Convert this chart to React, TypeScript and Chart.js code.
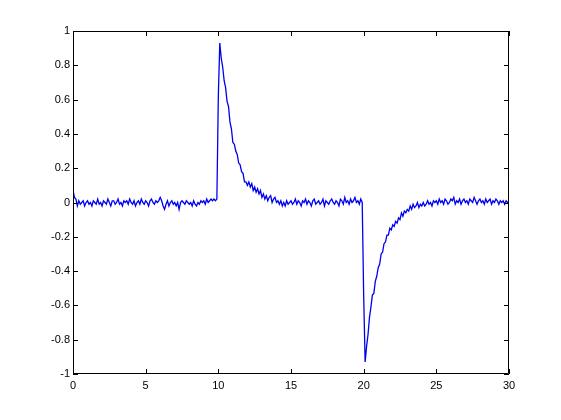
import React, { useEffect, useRef } from "react";
import { Chart, registerables } from "chart.js";

Chart.register(...registerables);

// Sample spacing along x (seconds per sample)
const xStep = 0.1;

// x = 0.0 .. 9.9 : baseline before the positive pulse
const baselineA = [
  0.07, 0.03, 0.02, -0.02, 0.01, -0.01, 0.0, 0.01, -0.02, 0.0,
  0.01, -0.01, 0.0, -0.02, 0.01, 0.0, -0.01, 0.02, -0.01, 0.0,
  -0.02, 0.01, 0.0, -0.01, 0.02, 0.0, -0.02, 0.01, 0.01, -0.01,
  0.0, 0.02, -0.01, 0.0, -0.02, 0.01, 0.0, 0.01, -0.01, 0.02,
  0.0, -0.01, 0.01, -0.02, 0.0, 0.01, -0.01, 0.02, 0.0, -0.01,
  0.01, 0.0, -0.02, 0.01, 0.02, 0.0, -0.01, 0.01, 0.0, 0.01,
  0.03, 0.01, -0.02, -0.04, -0.01, 0.01, -0.02, 0.0, 0.01, -0.01,
  0.0, -0.02, 0.0, -0.04, 0.0, 0.01, 0.0, -0.01, 0.01, 0.0,
  -0.01, 0.0, -0.02, 0.01, -0.01, -0.02, 0.0, -0.01, 0.01, 0.0,
  0.01, -0.01, 0.02, 0.0, 0.01, 0.02, 0.01, 0.02, 0.01, 0.02,
];

// x = 10.0 .. 14.9 : positive pulse and decay
const pulseUp = [
  0.62, 0.93, 0.84, 0.79, 0.71, 0.67, 0.59, 0.56, 0.47, 0.43,
  0.35, 0.34, 0.3, 0.28, 0.23, 0.22, 0.18, 0.17, 0.12, 0.12,
  0.1, 0.12, 0.09, 0.11, 0.07, 0.09, 0.06, 0.08, 0.05, 0.07,
  0.03, 0.05, 0.02, 0.04, 0.01, 0.03, 0.04, 0.0, 0.02, 0.03,
  0.0, 0.01, -0.01, 0.01, -0.02, 0.0, -0.02, 0.01, -0.01, 0.0,
];

// x = 15.0 .. 19.9 : baseline between pulses
const baselineB = [
  0.01, -0.01, 0.0, 0.02, -0.01, 0.01, 0.0, -0.02, 0.01, 0.0,
  0.02, -0.01, 0.01, 0.0, -0.02, 0.01, 0.02, -0.01, 0.0, 0.01,
  -0.01, 0.0, 0.02, -0.02, 0.01, 0.0, -0.01, 0.01, 0.02, 0.0,
  -0.01, 0.01, 0.0, -0.02, 0.02, 0.01, -0.01, 0.03, 0.0, 0.01,
  -0.01, 0.02, 0.0, 0.01, 0.03, 0.0, 0.01, -0.01, 0.02, 0.0,
];

// x = 20.0 .. 24.9 : negative pulse and recovery
const pulseDown = [
  -0.54, -0.93, -0.84, -0.77, -0.67, -0.61, -0.54, -0.53, -0.46, -0.43,
  -0.38, -0.36, -0.3, -0.29, -0.24, -0.23, -0.19, -0.19, -0.15, -0.16,
  -0.13, -0.14, -0.11, -0.12, -0.09, -0.1, -0.06, -0.08, -0.05, -0.06,
  -0.04, -0.05, -0.02, -0.04, -0.01, -0.03, -0.02, 0.0, -0.03, -0.01,
  -0.02, 0.0, -0.02, -0.01, 0.01, -0.01, 0.0, -0.02, 0.01, 0.0,
];

// x = 25.0 .. 30.0 : trailing baseline
const baselineC = [
  0.01, -0.01, 0.02, 0.0, 0.01, -0.01, 0.02, 0.01, -0.01, 0.0,
  0.02, 0.01, 0.03, -0.01, 0.01, 0.0, 0.02, -0.01, 0.01, 0.02,
  0.0, 0.01, -0.01, 0.02, 0.01, 0.0, 0.03, 0.01, -0.01, 0.01,
  0.02, 0.0, 0.01, -0.01, 0.02, 0.0, 0.01, 0.02, -0.01, 0.01,
  0.0, 0.02, 0.01, -0.01, 0.01, 0.0, 0.01, -0.01, 0.01, 0.0, 0.0,
];

const xTicks = [0, 5, 10, 15, 20, 25, 30];
const yTicks = [-1, -0.8, -0.6, -0.4, -0.2, 0, 0.2, 0.4, 0.6, 0.8, 1];

const signal = [...baselineA, ...pulseUp, ...baselineB, ...pulseDown, ...baselineC];

const boxPlugin = {
  id: "matlabBox",
  afterDraw(chart: any) {
    const { ctx, chartArea } = chart;
    const { left, right, top, bottom } = chartArea;
    const xs = chart.scales.x;
    const ys = chart.scales.y;
    ctx.save();
    ctx.strokeStyle = "#000000";
    ctx.lineWidth = 1;
    ctx.beginPath();
    ctx.rect(left + 0.5, top + 0.5, right - left - 1, bottom - top - 1);
    ctx.stroke();
    ctx.beginPath();
    const tl = 5;
    xTicks.forEach((t) => {
      const px = Math.round(xs.getPixelForValue(t)) + 0.5;
      ctx.moveTo(px, bottom);
      ctx.lineTo(px, bottom - tl);
      ctx.moveTo(px, top);
      ctx.lineTo(px, top + tl);
    });
    yTicks.forEach((t) => {
      const py = Math.round(ys.getPixelForValue(t)) + 0.5;
      ctx.moveTo(left, py);
      ctx.lineTo(left + tl, py);
      ctx.moveTo(right, py);
      ctx.lineTo(right - tl, py);
    });
    ctx.stroke();
    ctx.restore();
  },
};

export default function App() {
  const ref = useRef<HTMLCanvasElement | null>(null);

  useEffect(() => {
    document.body.style.margin = "0";
    const canvas = ref.current;
    if (!canvas) return;
    const points = signal.map((v, i) => ({ x: Math.round(i * xStep * 10) / 10, y: v }));
    const font = { family: "'Liberation Sans', Arial, sans-serif", size: 11 };
    const chart = new Chart(canvas, {
      type: "line",
      data: {
        datasets: [
          {
            data: points,
            borderColor: "#0000f0",
            borderWidth: 1.3,
            pointRadius: 0,
            tension: 0,
            fill: false,
          },
        ],
      },
      options: {
        animation: false,
        responsive: false,
        devicePixelRatio: 1,
        parsing: false as any,
        normalized: true,
        layout: { padding: { left: 0, top: 31, right: 52, bottom: 0 } },
        plugins: { legend: { display: false }, tooltip: { enabled: false } },
        scales: {
          x: {
            type: "linear",
            min: 0,
            max: 30,
            afterBuildTicks: (scale: any) => {
              scale.ticks = xTicks.map((v) => ({ value: v }));
            },
            afterFit: (scale: any) => {
              scale.height = 46;
            },
            grid: { display: false, drawTicks: false },
            border: { display: false },
            ticks: {
              color: "#000000",
              font,
              padding: 5,
              maxRotation: 0,
              autoSkip: false,
              callback: (v: any) => String(v),
            },
          },
          y: {
            type: "linear",
            min: -1,
            max: 1,
            afterBuildTicks: (scale: any) => {
              scale.ticks = yTicks.map((v) => ({ value: v }));
            },
            afterFit: (scale: any) => {
              scale.width = 73;
            },
            grid: { display: false, drawTicks: false },
            border: { display: false },
            ticks: {
              color: "#000000",
              font,
              padding: 3,
              autoSkip: false,
              callback: (v: any) => String(Math.round(Number(v) * 10) / 10),
            },
          },
        },
      },
      plugins: [boxPlugin],
    } as any);
    return () => chart.destroy();
  }, []);

  return (
    <div style={{ position: "fixed", left: 0, top: 0, width: 561, height: 420, background: "#ffffff" }}>
      <canvas ref={ref} width={561} height={420} style={{ display: "block", width: 561, height: 420 }} />
    </div>
  );
}
